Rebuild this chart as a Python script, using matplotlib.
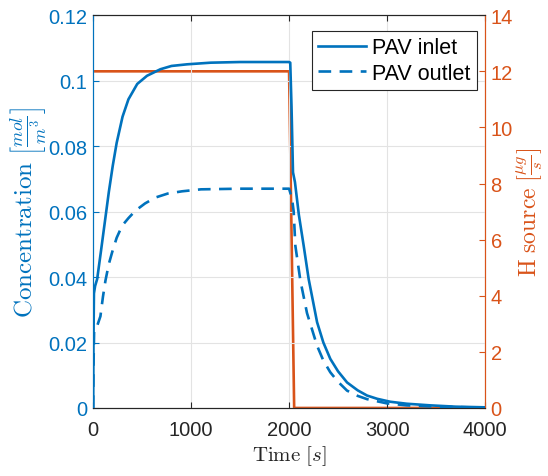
import matplotlib.pyplot as plt

plt.rcParams['mathtext.fontset'] = 'cm'
plt.rcParams['font.family'] = 'Liberation Sans'

BLUE = '#0072BD'
ORANGE = '#D95319'

# PAV inlet concentration (mol/m^3)
t_inlet = [0, 3, 8, 20, 41, 80, 120, 160, 200, 240, 300, 360, 450, 550, 687, 800, 959,
           1200, 1500, 2000, 2012, 2025, 2040, 2060, 2100, 2149, 2200, 2286, 2350, 2421,
           2500, 2592, 2700, 2796, 2900, 3034, 3200, 3442, 3700, 4000]
c_inlet = [0, 0.020, 0.035, 0.0373, 0.0394, 0.048, 0.057, 0.066, 0.074, 0.081, 0.089,
           0.0943, 0.099, 0.1015, 0.1035, 0.1045, 0.105, 0.1055, 0.1057, 0.1057, 0.1055,
           0.092, 0.072, 0.069, 0.059, 0.0496, 0.0394, 0.0262, 0.020, 0.015, 0.0112,
           0.0078, 0.0054, 0.0038, 0.0028, 0.0019, 0.0013, 0.0008, 0.0004, 0.0002]

# PAV outlet concentration (mol/m^3)
t_outlet = [0, 3, 10, 40, 74, 100, 126, 160, 194, 240, 296, 360, 432, 530, 636, 760, 908,
            1100, 1500, 2000, 2030, 2047, 2064, 2115, 2183, 2286, 2350, 2421, 2500, 2592,
            2700, 2796, 3000, 3200, 3500, 4000]
c_outlet = [0, 0.012, 0.024, 0.025, 0.028, 0.034, 0.039, 0.044, 0.0476, 0.052, 0.0557,
            0.058, 0.0603, 0.0625, 0.0643, 0.0655, 0.0662, 0.0668, 0.067, 0.067, 0.064,
            0.060, 0.0496, 0.039, 0.029, 0.019, 0.0145, 0.0109, 0.008, 0.0053, 0.0037,
            0.0027, 0.0014, 0.0008, 0.0004, 0.0001]

# H source (ug/s)
t_source = [0, 2000, 2052, 4000]
h_source = [12, 12, 0, 0]

x_ticks = [0, 1000, 2000, 3000, 4000]
left_ticks = [0, 0.02, 0.04, 0.06, 0.08, 0.1, 0.12]
right_ticks = [0, 2, 4, 6, 8, 10, 12, 14]

fig = plt.figure(figsize=(5.48, 4.77), dpi=100)
ax = fig.add_axes((0.170, 0.1426, 0.715, 0.8234))
ax2 = ax.twinx()

ax.plot(t_inlet, c_inlet, color=BLUE, lw=1.9, label='PAV inlet', zorder=3)
ax.plot(t_outlet, c_outlet, color=BLUE, lw=1.9, linestyle=(0, (4.8, 3.2)),
        label='PAV outlet', zorder=3)
ax2.plot(t_source, h_source, color=ORANGE, lw=1.9)

ax.set_xlim(0, 4000)
ax.set_ylim(0, 0.12)
ax2.set_ylim(0, 14)
ax.set_xticks(x_ticks)
ax.set_yticks(left_ticks)
ax.set_yticklabels([f'{v:g}' for v in left_ticks])
ax2.set_yticks(right_ticks)

ax.grid(True, color='#e3e3e3', lw=0.8)
ax.set_axisbelow(True)

for a in (ax, ax2):
    a.spines['top'].set_color('#262626')
    a.spines['bottom'].set_color('#262626')
    a.spines['left'].set_color(BLUE)
    a.spines['right'].set_color(ORANGE)
    for s in a.spines.values():
        s.set_linewidth(0.8)

ax.tick_params(axis='x', direction='in', top=True, colors='#262626', labelsize=14.5,
               length=4, pad=9)
ax.tick_params(axis='y', direction='in', colors=BLUE, labelsize=14.5, length=4, pad=4)
ax2.tick_params(axis='y', direction='in', colors=ORANGE, labelsize=14.5, length=4, pad=4)

ax.set_xlabel(r'$\mathrm{Time}\ [s]$', fontsize=15, color='#262626', labelpad=3)
ax.set_ylabel(r'$\mathrm{Concentration}\ \left[\frac{mol}{m^3}\right]$', fontsize=18,
              color=BLUE, labelpad=0)
ax2.set_ylabel(r'$\mathrm{H\ source}\ \left[\frac{\mu g}{s}\right]$', fontsize=17,
               color=ORANGE, labelpad=1)

leg = ax.legend(loc='upper right', bbox_to_anchor=(0.98, 0.96), fontsize=15.5,
                handlelength=2.2, fancybox=False, edgecolor='#262626', framealpha=1,
                borderpad=0.3, labelspacing=0.2, handletextpad=0.3, borderaxespad=0)
leg.get_frame().set_linewidth(0.8)
leg.set_zorder(10)
ax.set_zorder(ax2.get_zorder() + 1)
ax.patch.set_visible(False)

fig.savefig('out.png', dpi=100)
